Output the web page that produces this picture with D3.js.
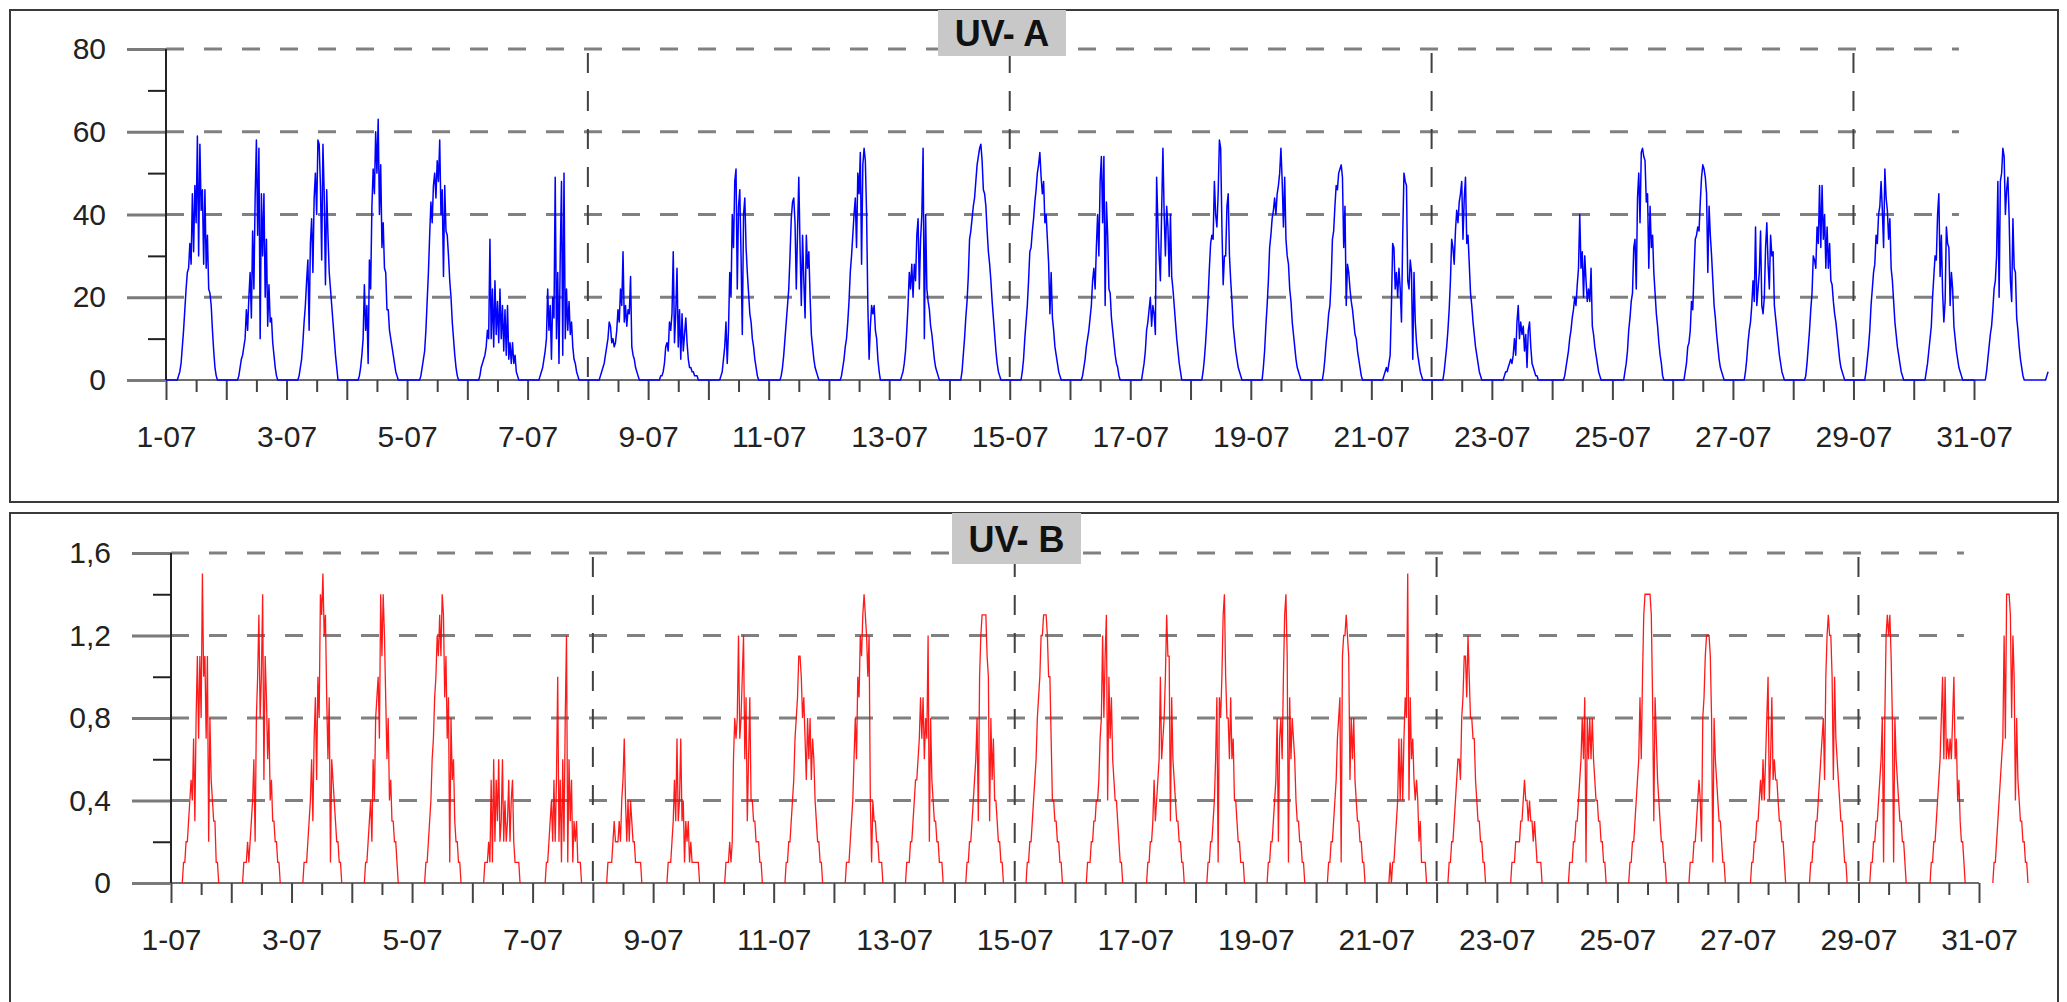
<!DOCTYPE html>
<html>
<head>
<meta charset="utf-8">
<script src="https://cdn.jsdelivr.net/npm/d3@7"></script>
<style>
  body { margin: 0; background: #fff; }
  svg { display: block; }
  text { font-family: "Liberation Sans", Arial, sans-serif; }
</style>
</head>
<body>
<svg id="chart" width="2067" height="1002"></svg>
<script>
// half-hour sampling slots (hour of day) used by every daily row below
const slotHours = [4.5, 5, 5.5, 6, 6.5, 7, 7.5, 8, 8.5, 9, 9.5, 10, 10.5, 11, 11.5, 12,
  12.5, 13, 13.5, 14, 14.5, 15, 15.5, 16, 16.5, 17, 17.5, 18, 18.5, 19, 19.5, 20, 20.5];

const xTickLabels = ["1-07", "3-07", "5-07", "7-07", "9-07", "11-07", "13-07", "15-07",
  "17-07", "19-07", "21-07", "23-07", "25-07", "27-07", "29-07", "31-07"];
const labelDays = [0, 2, 4, 6, 8, 10, 12, 14, 16, 18, 20, 22, 24, 26, 28, 30];
const weekDays = [7, 14, 21, 28];   // 8-07, 15-07, 22-07, 29-07

const yTicksA = [0, 20, 40, 60, 80];
const yLabelsA = ["0", "20", "40", "60", "80"];
const yMinorA = [10, 30, 50, 70];
const yTicksB = [0, 0.4, 0.8, 1.2, 1.6];
const yLabelsB = ["0", "0,4", "0,8", "1,2", "1,6"];
const yMinorB = [0.2, 0.6, 1.0, 1.4];

// UV-A, one row per day of July
const uvaDays = [
  [0,1,2,4,8,12,17,22,26,27,33,28,45,31,47,38,59,30,57,41,46,28,46,27,35,22,21,18,12,7,3,1,0],
  [0,1,3,5,6,8,10,17,12,20,26,15,36,22,44,58,35,56,10,45,30,45,20,34,13,23,14,15,9,6,3,1,0],
  [0,1,3,5,9,14,18,24,29,12,33,39,26,44,50,40,58,57,47,29,57,45,23,46,35,26,22,18,14,10,6,3,0],
  [0,1,3,6,10,23,12,18,4,29,22,42,51,45,60,50,63,40,52,32,38,27,26,17,17,12,10,8,6,4,2,1,0],
  [0,0,1,3,5,7,12,19,26,35,43,38,47,50,44,53,48,58,40,46,25,47,36,35,30,24,20,14,10,6,3,1,0],
  [0,1,3,4,5,6,8,12,10,34,10,22,8,24,11,19,9,22,10,18,7,17,6,18,5,9,4,9,4,6,2,1,0],
  [0,1,2,3,5,7,10,22,12,18,5,20,15,49,10,26,4,30,48,6,50,10,22,12,19,11,14,8,5,4,2,1,0],
  [0,1,2,3,4,6,8,10,14,13,9,10,8,9,12,17,14,22,18,31,14,18,13,17,16,25,8,6,5,3,2,1,0],
  [0,1,1,2,4,8,9,7,14,12,16,31,9,16,27,8,17,5,16,7,11,15,9,5,3,3,2,2,1,1,1,0,0],
  [0,1,2,5,8,14,4,12,26,20,40,32,48,51,22,42,46,30,11,40,44,32,26,21,16,14,10,8,5,3,1,0,0],
  [0,1,3,6,10,14,18,22,30,39,43,44,38,22,36,49,32,18,35,24,15,35,27,31,20,11,8,5,3,2,1,0,0],
  [0,1,3,5,8,10,14,19,26,30,35,40,44,32,50,45,55,28,52,56,53,40,18,5,13,18,16,18,12,10,5,2,0],
  [0,1,2,4,7,12,18,26,22,28,20,28,24,35,39,22,34,40,56,10,40,22,19,17,13,11,8,5,3,2,1,0,0],
  [0,2,6,10,15,19,25,34,36,39,42,44,48,52,54,56,57,53,46,45,42,36,31,28,24,19,15,11,7,4,2,1,0],
  [0,2,5,10,14,18,24,31,32,36,39,43,46,50,52,55,49,45,48,38,40,34,28,16,26,15,12,8,6,4,2,1,0],
  [0,1,3,5,8,10,12,15,18,24,27,22,32,40,30,48,54,38,54,18,43,35,22,21,15,12,9,6,4,3,1,0,0],
  [0,2,4,7,12,14,17,20,13,18,16,11,49,38,30,24,41,56,40,30,42,37,25,40,25,22,18,14,10,7,4,2,0],
  [0,2,5,9,14,20,27,33,35,34,48,40,37,45,58,56,37,23,30,30,42,45,30,24,19,13,10,7,5,3,2,1,0],
  [0,3,7,13,18,24,32,35,39,41,44,40,45,47,50,56,48,37,49,34,30,28,22,19,14,11,8,5,3,2,1,0,0],
  [0,2,5,9,12,16,18,24,34,36,42,47,46,50,51,52,49,32,42,18,28,26,22,19,17,14,11,10,7,5,3,1,0],
  [0,1,2,3,2,4,6,18,33,32,22,26,20,27,22,14,35,50,48,47,24,22,29,26,5,26,14,9,6,4,2,1,0],
  [0,2,5,8,12,17,24,34,32,28,36,41,38,43,45,48,34,44,49,33,35,28,21,18,14,11,8,6,4,2,1,0,0],
  [0,1,2,2,3,4,5,4,6,10,6,14,18,10,14,11,13,7,11,3,12,14,8,4,3,2,1,1,0,0,0,0,0],
  [0,1,3,5,7,10,12,15,17,20,18,23,27,40,27,31,20,30,24,19,22,19,27,13,11,8,6,4,2,1,0,0,0],
  [0,2,4,7,12,15,19,21,32,34,22,44,50,38,55,56,54,53,43,45,27,42,32,35,26,21,16,13,9,6,4,1,0],
  [0,2,4,8,9,12,19,17,26,34,35,37,36,43,49,52,51,49,45,26,42,35,30,24,18,15,11,8,5,3,2,1,0],
  [0,2,5,9,12,14,18,24,19,37,18,22,26,36,18,16,20,32,38,28,22,35,30,31,18,15,12,9,6,4,2,1,0],
  [0,1,4,8,12,17,21,30,29,27,37,33,47,32,47,34,40,27,37,27,33,24,23,19,16,14,11,8,5,3,2,1,0],
  [0,2,5,8,12,18,22,26,28,35,33,40,42,48,41,32,51,44,41,34,39,27,24,19,14,11,8,6,4,2,1,0,0],
  [0,2,4,7,10,13,20,25,30,29,40,45,25,35,21,14,19,37,33,32,18,26,22,13,10,7,5,3,2,1,0,0,0],
  [0,2,5,8,11,13,17,22,24,30,48,20,48,50,56,54,40,46,49,39,24,19,39,27,26,15,12,8,5,3,1,0,0]
];
const uvaMidnight = 0;          // reading at 1-07 00:00
const uvaTail = [0, 1, 2];      // first slots of 1-08

// UV-B, one row per day of July
const uvbDays = [
  [0,.1,.1,.2,.2,.3,.4,.5,.4,.7,.3,.8,1.1,.7,1.1,.8,1.5,1.0,1.1,.7,1.1,.2,.8,.5,.4,.3,.3,.1,.1,0,0,0,0],
  [0,.1,.1,.1,.2,.1,.2,.3,.4,.6,.2,.8,1.0,1.3,.8,1.0,1.4,.5,1.1,.9,.6,.8,.4,.5,.3,.3,.2,.2,.1,.1,0,0,0],
  [0,.1,.1,.1,.2,.3,.4,.6,.3,.7,.9,.5,1.0,.8,1.4,1.3,1.5,1.2,1.3,.9,.6,.9,.1,.6,.5,.4,.3,.2,.2,.1,.1,0,0],
  [0,0,.1,.1,.2,.3,.4,.2,.6,.4,.8,.9,1.0,.7,1.4,1.1,1.4,1.2,.9,.6,.8,.4,.5,.3,.3,.2,.2,.1,0,0,0,0,0],
  [0,0,.1,.1,.2,.3,.4,.6,.7,.9,1.0,1.2,1.1,1.3,1.1,1.4,1.3,.9,1.1,.7,.9,.1,.8,.5,.6,.3,.2,.2,.1,.1,0,0,0],
  [0,.1,.1,.1,.2,.1,.5,.1,.6,.2,.5,.3,.6,.2,.3,.6,.2,.4,.2,.3,.5,.2,.4,.5,.2,.1,.1,.1,.1,0,0,0,0],
  [0,0,.1,.1,.2,.3,.4,.2,.5,.2,.5,1.0,.2,.5,.1,.6,.2,.8,1.2,.1,.6,.3,.5,.1,.3,.2,.3,.1,.1,.1,0,0,0],
  [0,0,0,.1,.1,.1,.1,.2,.3,.2,.2,.2,.3,.2,.4,.5,.7,.4,.2,.4,.2,.4,.3,.2,.2,.1,.1,.1,.1,.1,0,0,0],
  [0,0,0,.1,.1,.1,.2,.3,.5,.3,.7,.3,.4,.7,.3,.4,.1,.3,.2,.3,.1,.2,.1,.1,.1,.1,.1,.1,0,0,0,0,0],
  [0,.1,.1,.1,.2,.1,.2,.6,.8,.7,.8,1.2,.7,.8,1.0,1.2,.6,.9,.3,.6,.9,.4,.4,.3,.3,.2,.2,.2,.1,.1,0,0,0],
  [0,.1,.1,.2,.2,.3,.4,.5,.7,.8,.9,1.1,1.1,1.0,.8,.9,.7,.5,.8,.6,.8,.5,.7,.6,.4,.3,.2,.2,.1,.1,0,0,0],
  [0,.1,.1,.1,.2,.3,.4,.6,.8,.6,1.0,.9,1.2,1.1,1.3,1.4,1.3,1.2,1.0,1.2,.4,.1,.4,.3,.3,.2,.2,.1,.1,.1,0,0,0],
  [0,.1,.1,.1,.2,.2,.3,.4,.5,.5,.6,.7,.9,.7,.9,.6,.8,.7,1.2,.2,.8,.5,.4,.3,.3,.2,.2,.1,.1,.1,0,0,0],
  [0,.1,.1,.2,.2,.3,.4,.5,.6,.8,.3,1.0,1.2,1.3,1.3,1.3,1.3,1.1,1.0,.3,.8,.5,.7,.4,.4,.3,.2,.2,.1,.1,0,0,0],
  [0,.1,.1,.2,.2,.3,.4,.5,.6,.8,.9,1.0,1.2,1.2,1.3,1.3,1.3,1.2,1.0,1.0,.7,.4,.4,.3,.3,.2,.2,.1,.1,0,0,0,0],
  [0,.1,.1,.1,.2,.2,.3,.3,.4,.4,.5,.7,.8,1.2,.8,1.1,1.3,.4,1.0,.7,.9,.6,.5,.4,.4,.3,.2,.1,.1,0,0,0,0],
  [0,.1,.1,.2,.2,.3,.5,.3,.4,.5,.6,1.0,.6,.7,.8,1.0,1.3,1.1,1.1,.3,.9,.6,.5,.4,.3,.3,.2,.2,.1,.1,0,0,0],
  [0,.1,.1,.2,.2,.3,.4,.6,.9,.1,.9,.8,1.0,1.3,1.4,1.0,.8,.8,.6,.9,.6,.7,.4,.4,.3,.2,.2,.1,.1,.1,0,0,0],
  [0,.1,.1,.2,.2,.3,.4,.5,.8,.2,.7,.8,.6,1.0,1.3,1.4,1.1,.1,.9,.6,.8,.7,.6,.4,.3,.3,.2,.2,.1,.1,0,0,0],
  [0,.1,.1,.2,.2,.3,.4,.5,.7,.8,.9,.1,1.1,1.2,1.2,1.3,1.2,1.1,.5,.8,.6,.8,.5,.4,.3,.3,.2,.2,.1,.1,0,0,0],
  [0,0,.1,0,.1,.1,.2,.3,.4,.7,.4,.7,.4,.7,.9,.8,1.5,.4,.9,.6,.7,.5,.4,.5,.4,.2,.3,.1,.1,.1,.1,0,0],
  [0,.1,.1,.2,.2,.3,.4,.5,.6,.6,.5,.8,.9,1.1,1.1,.9,1.2,1.0,.8,.8,.7,.7,.5,.4,.3,.3,.2,.2,.1,.1,0,0,0],
  [0,0,0,.1,.1,.1,.2,.2,.2,.2,.3,.3,.4,.5,.4,.4,.3,.4,.3,.3,.2,.3,.2,.1,.1,.1,.1,0,0,0,0,0,0],
  [0,.1,.1,.1,.2,.2,.3,.3,.4,.5,.6,.8,.6,.9,.1,.8,.6,.8,.6,.8,.6,.5,.4,.4,.3,.3,.2,.2,.1,.1,0,0,0],
  [0,.1,.1,.2,.2,.3,.4,.5,.6,.9,.6,1.0,1.3,1.4,1.4,1.4,1.4,1.4,1.3,.9,.3,.9,.7,.5,.4,.3,.2,.2,.1,.1,0,0,0],
  [0,.1,.1,.1,.2,.2,.3,.4,.5,.4,.2,.8,.9,1.1,1.2,1.2,1.2,1.1,.8,.1,.8,.6,.5,.4,.3,.3,.2,.1,.1,0,0,0,0],
  [0,0,.1,.1,.2,.2,.3,.3,.4,.5,.4,.6,.4,.6,.8,1.0,.4,.6,.9,.5,.6,.5,.5,.4,.3,.3,.2,.2,.1,0,0,0,0],
  [0,.1,.1,.2,.2,.3,.3,.4,.5,.6,.7,.8,.5,1.0,1.2,1.3,1.2,1.2,1.0,.5,1.0,.7,.6,.5,.4,.3,.3,.2,.1,.1,0,0,0],
  [0,.1,.1,.2,.2,.3,.3,.4,.5,.6,.8,.1,.8,1.2,1.3,1.2,1.3,1.1,.8,.1,.8,.6,.5,.4,.3,.3,.2,.2,.1,0,0,0,0],
  [0,.1,.1,.2,.2,.3,.4,.5,.6,.8,1.0,.6,1.0,.6,.7,.6,.7,.6,.8,1.0,.6,.7,.4,.5,.3,.2,.2,.1,0,0,0,0,0],
  [0,0,0,.1,.1,.2,.3,.4,.5,.6,.7,1.2,.7,1.4,1.4,1.4,1.3,.8,1.2,1.0,.4,.8,.5,.4,.3,.3,.2,.2,.1,.1,0,0,0]
];

const svg = d3.select("#chart");

function drawPanel(p) {
  const x = d3.scaleLinear().domain([0, 30]).range(p.xRange);
  const y = d3.scaleLinear().domain([0, p.yMax]).range(p.yRange);
  const ax = p.xRange[0], y0 = y(0);
  const g = svg.append("g");

  // frame
  g.append("rect")
    .attr("x", p.frame[0]).attr("y", p.frame[1])
    .attr("width", p.frame[2]).attr("height", p.frame[3])
    .attr("fill", "none").attr("stroke", "#3a3a3a").attr("stroke-width", 2);

  // horizontal dashed grid
  g.selectAll(null).data(p.yTicks.filter(v => v > 0)).join("line")
    .attr("x1", ax).attr("x2", x(29.75))
    .attr("y1", d => y(d)).attr("y2", d => y(d))
    .attr("stroke", "#808080").attr("stroke-width", 3)
    .attr("stroke-dasharray", "18,20");

  // weekly vertical dashed lines
  g.selectAll(null).data(weekDays).join("line")
    .attr("x1", d => x(d)).attr("x2", d => x(d))
    .attr("y1", y(p.yMax) + 4).attr("y2", y0)
    .attr("stroke", "#404040").attr("stroke-width", 2)
    .attr("stroke-dasharray", "20,18");

  // x axis line
  g.append("line")
    .attr("x1", ax - 39).attr("x2", x(30)).attr("y1", y0).attr("y2", y0)
    .attr("stroke", "#6e6e6e").attr("stroke-width", 2);

  const styleTicks = sel => {
    sel.select(".domain").remove();
    sel.selectAll(".tick line").attr("stroke", "#444").attr("stroke-width", 2);
  };

  g.append("g").attr("transform", `translate(0,${y0})`)
    .call(d3.axisBottom(x).tickValues(d3.range(0, 31)).tickSize(20).tickSizeOuter(0).tickFormat(""))
    .call(styleTicks);
  g.append("g").attr("transform", `translate(0,${y0})`)
    .call(d3.axisBottom(x).tickValues(d3.range(0.5, 30, 1)).tickSize(12).tickSizeOuter(0).tickFormat(""))
    .call(styleTicks);
  const xl = g.append("g").attr("transform", `translate(0,${y0})`)
    .call(d3.axisBottom(x).tickValues(labelDays).tickSize(0).tickPadding(46)
      .tickFormat((d, i) => xTickLabels[i]));
  xl.select(".domain").remove();
  xl.selectAll("text").attr("font-size", 30).attr("fill", "#222")
    .attr("font-family", '"Liberation Sans", Arial, sans-serif');

  // y axis: gray major ticks with labels, black minor ticks
  const yl = g.append("g").attr("transform", `translate(${ax},0)`)
    .call(d3.axisLeft(y).tickValues(p.yTicks).tickSize(39).tickPadding(21)
      .tickFormat((d, i) => p.yLabels[i]));
  yl.select(".domain").remove();
  yl.selectAll(".tick line").attr("stroke", "#7a7a7a").attr("stroke-width", 3);
  yl.selectAll("text").attr("font-size", 30).attr("fill", "#222")
    .attr("font-family", '"Liberation Sans", Arial, sans-serif');

  g.append("g").attr("transform", `translate(${ax},0)`)
    .call(d3.axisLeft(y).tickValues(p.yMinor).tickSize(18).tickFormat(""))
    .call(sel => {
      sel.select(".domain").remove();
      sel.selectAll(".tick line").attr("stroke", "#222").attr("stroke-width", 2);
    });

  g.append("line")
    .attr("x1", ax).attr("x2", ax).attr("y1", y(p.yMax)).attr("y2", y0)
    .attr("stroke", "#222").attr("stroke-width", 2);

  p.drawData(g, x, y);

  // title tab
  g.append("rect")
    .attr("x", p.tab[0]).attr("y", p.tab[1]).attr("width", p.tab[2]).attr("height", p.tab[3])
    .attr("fill", "#c8c8c8");
  g.append("text")
    .attr("x", p.tab[0] + p.tab[2] / 2).attr("y", p.tab[1] + p.tab[3] / 2 + 13)
    .attr("text-anchor", "middle").attr("font-size", 36).attr("font-weight", "bold")
    .attr("fill", "#111").text(p.title);
}

// UV-A panel
drawPanel({
  xRange: [166, 1974], yRange: [380, 49], yMax: 80,
  yTicks: yTicksA, yLabels: yLabelsA, yMinor: yMinorA,
  frame: [10, 10, 2048, 492], tab: [938, 10, 128, 46], title: "UV- A",
  drawData: (g, x, y) => {
    const pts = [{ t: 0, v: uvaMidnight }];
    uvaDays.forEach((row, d) => row.forEach((v, k) => pts.push({ t: d + slotHours[k] / 24, v })));
    uvaTail.forEach((v, k) => pts.push({ t: 31 + slotHours[k] / 24, v }));
    g.append("path").datum(pts)
      .attr("fill", "none").attr("stroke", "#0000ff").attr("stroke-width", 1.5)
      .attr("stroke-linejoin", "round")
      .attr("d", d3.line().x(d => x(d.t)).y(d => y(d.v)));
  }
});

// UV-B panel
drawPanel({
  xRange: [171, 1979], yRange: [883, 553], yMax: 1.6,
  yTicks: yTicksB, yLabels: yLabelsB, yMinor: yMinorB,
  frame: [10, 513, 2048, 600], tab: [952, 513, 129, 51], title: "UV- B",
  drawData: (g, x, y) => {
    const line = d3.line().x(d => x(d.t)).y(d => y(d.v));
    uvbDays.forEach((row, d) => {
      const first = row.findIndex(v => v > 0);
      let last = row.length - 1;
      while (last > 0 && row[last] === 0) last--;
      const pts = [];
      for (let k = Math.max(0, first - 1); k <= Math.min(row.length - 1, last + 1); k++) {
        pts.push({ t: d + slotHours[k] / 24, v: row[k] });
      }
      g.append("path").datum(pts)
        .attr("fill", "none").attr("stroke", "#ff0000").attr("stroke-width", 1.3)
        .attr("stroke-opacity", 0.9)
        .attr("d", line);
    });
  }
});
</script>
</body>
</html>
